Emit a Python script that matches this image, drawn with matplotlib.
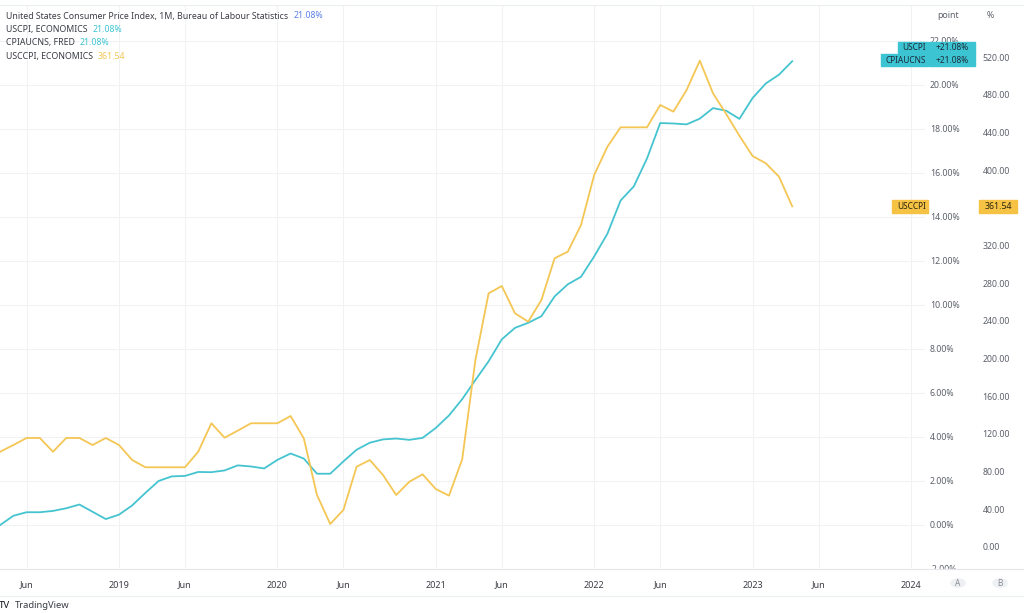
import numpy as np
import matplotlib
matplotlib.use("Agg")
import matplotlib.pyplot as plt
from matplotlib.patches import Rectangle, Circle
from matplotlib.lines import Line2D

plt.rcParams['font.family'] = ['Noto Sans', 'DejaVu Sans']

# monthly bars, Apr 2018 .. Apr 2023 (month index counted from Jan 2018)
first_month = 3
uscpi_pct = [0.00, 0.42, 0.58, 0.58, 0.64, 0.76, 0.93, 0.60, 0.27, 0.47, 0.89, 1.46,
             2.00, 2.21, 2.23, 2.41, 2.40, 2.48, 2.71, 2.66, 2.57, 2.96, 3.25, 3.02,
             2.33, 2.33, 2.89, 3.42, 3.74, 3.89, 3.93, 3.87, 3.96, 4.41, 4.98, 5.72,
             6.59, 7.44, 8.44, 8.96, 9.19, 9.49, 10.39, 10.94, 11.28, 12.21, 13.24, 14.75,
             15.39, 16.66, 18.27, 18.25, 18.21, 18.47, 18.95, 18.83, 18.46, 19.41, 20.07, 20.47,
             21.08]
usccpi = [101.1, 108.2, 115.7, 115.7, 101.1, 115.7, 115.7, 108.2, 115.7, 108.2, 92.3, 84.6,
          84.6, 84.6, 84.6, 101.1, 131.3, 116.0, 123.5, 131.3, 131.3, 131.3, 139.0, 115.3,
          55.2, 24.4, 39.3, 85.2, 92.3, 76.4, 55.2, 69.3, 77.1, 61.5, 54.5, 93.1,
          198.4, 269.2, 277.0, 248.0, 239.1, 262.1, 306.4, 313.4, 341.7, 394.8, 424.8, 445.4,
          445.4, 445.4, 469.1, 462.0, 485.0, 516.1, 481.5, 459.5, 436.5, 414.9, 407.2, 393.0,
          361.54]

tick_months = [5, 12, 17, 24, 29, 36, 41, 48, 53, 60, 65, 72]
tick_labels = ['Jun', '2019', 'Jun', '2020', 'Jun', '2021', 'Jun', '2022', 'Jun', '2023', 'Jun', '2024']
pct_ticks = list(range(0, 23, 2))
pt_ticks = list(range(0, 521, 40))

legend_rows = [
    ('United States Consumer Price Index, 1M, Bureau of Labour Statistics', '21.08%', '#5a7fe6'),
    ('USCPI, ECONOMICS', '21.08%', '#3cc4d2'),
    ('CPIAUCNS, FRED', '21.08%', '#3cc4d2'),
    ('USCCPI, ECONOMICS', '361.54', '#f3c653'),
]

CYAN = '#45c4d0'
YELLOW = '#f4c654'
TXT = '#3a3d45'
SCALE_TXT = '#5d606b'
GRID = '#f1f2f4'

W, H = 1024, 613
fig = plt.figure(figsize=(W / 100, H / 100), dpi=100)


def fx(px):
    return px / W


def fy(py):
    return 1 - py / H


months = np.arange(first_month, first_month + len(uscpi_pct))

ax = fig.add_axes([0, 45 / H, 925 / W, 563 / H])
ax.set_xlim(2.985, 73.06)
ax.set_ylim(-1.955, 23.636)
ax.plot(months, uscpi_pct, color=CYAN, lw=1.3, zorder=3)
ax.set_xticks(tick_months, tick_labels)
ax.tick_params(axis='x', length=0, pad=9, labelsize=6.5, labelcolor=TXT)
for lab in ax.get_xticklabels():
    if lab.get_text() != 'Jun':
        lab.set_fontweight('bold')
ax.grid(True, color=GRID, lw=0.8)
for s in ax.spines.values():
    s.set_visible(False)

axb = ax.twinx()
axb.set_ylim(-22.3, 575.2)
axb.plot(months, usccpi, color=YELLOW, lw=1.3)
axb.set_yticks(pt_ticks, [f'{v:.2f}' for v in pt_ticks])
axb.tick_params(axis='y', length=0, pad=41.5, labelsize=6.3, labelcolor=SCALE_TXT)
for s in axb.spines.values():
    s.set_visible(False)

# percent scale sits on the right too (twinx moved it to the left)
ax.yaxis.tick_right()
ax.set_yticks(pct_ticks, [f'{v:.2f}%' for v in pct_ticks])
ax.tick_params(axis='y', which='both', left=False, labelleft=False, right=True, labelright=True,
               length=0, pad=3.6, labelsize=6.3, labelcolor=SCALE_TXT)

# partly hidden bottom label of the percent scale
fig.text(fx(930), fy(569), '-2.00%', fontsize=6.3, color=SCALE_TXT, ha='left', va='center', zorder=0.5)
fig.add_artist(Rectangle((fx(925), fy(597)), 99 / W, 28.5 / H, transform=fig.transFigure,
                         color='white', zorder=1))
fig.add_artist(Line2D([0, 1], [fy(568.5)] * 2, color='#e3e5e8', lw=0.8, zorder=2))
fig.add_artist(Line2D([0, 1], [fy(595.5)] * 2, color='#eceef1', lw=0.8, zorder=2))
fig.add_artist(Line2D([0, 1], [fy(4.5)] * 2, color='#eceef1', lw=0.8, zorder=2))

# scale headers
fig.text(fx(937), fy(16), 'point', fontsize=6.3, color=SCALE_TXT, ha='left', va='center')
fig.text(fx(987), fy(16), '%', fontsize=6.3, color=SCALE_TXT, ha='left', va='center')

# A / B buttons
for cx, t in [(958, 'A'), (1000, 'B')]:
    fig.add_artist(Circle((fx(cx), fy(583)), 7 / W, transform=fig.transFigure,
                          color='#eef0f3', zorder=2))
    fig.text(fx(cx), fy(583), t, fontsize=6, color='#8a8d96', ha='center', va='center', zorder=3)


def box(x0, x1, y0, y1, color):
    fig.add_artist(Rectangle((fx(x0), fy(y1)), (x1 - x0) / W, (y1 - y0) / H,
                             transform=fig.transFigure, color=color, zorder=4))


TAG = '#3cc4d2'
box(897.7, 928.3, 41.7, 53.3, TAG)
box(880.7, 928.3, 54.3, 66, TAG)
box(929.3, 975, 41.7, 66, TAG)
fig.text(fx(926), fy(47.5), 'USCPI', fontsize=6, color='#1d2a3a', ha='right', va='center', zorder=5)
fig.text(fx(926), fy(60.2), 'CPIAUCNS', fontsize=6, color='#1d2a3a', ha='right', va='center', zorder=5)
fig.text(fx(952), fy(47.5), '+21.08%', fontsize=6, color='#1d2a3a', ha='center', va='center', zorder=5)
fig.text(fx(952), fy(60.2), '+21.08%', fontsize=6, color='#1d2a3a', ha='center', va='center', zorder=5)

# last-value tag of the yellow series, placed by its own scale
last_y = H - axb.transData.transform((0, usccpi[-1]))[1]
YTAG = '#f6c243'
box(891.7, 928.3, last_y - 6.3, last_y + 6.3, YTAG)
box(979, 1017, last_y - 6.3, last_y + 6.3, YTAG)
fig.text(fx(926), fy(last_y), 'USCCPI', fontsize=6, color='#2a2410', ha='right', va='center', zorder=5)
fig.text(fx(998), fy(last_y), f'{usccpi[-1]:.2f}', fontsize=6.3, color='#2a2410', ha='center',
         va='center', zorder=5)

# legend block in the top-left corner
renderer = fig.canvas.get_renderer()
for i, (name, val, col) in enumerate(legend_rows):
    y = fy(16 + i * 13.4)
    t = fig.text(fx(6), y, name, fontsize=6.3, color=TXT, ha='left', va='center')
    bb = t.get_window_extent(renderer)
    fig.text(fx(bb.x1 + 5), y, val, fontsize=6.3, color=col, ha='left', va='center')

# watermark
fig.text(fx(-1), fy(605), 'TV', fontsize=7, fontweight='heavy', color='#131722', ha='left', va='center')
fig.text(fx(15), fy(605), 'TradingView', fontsize=6.8, color='#3a3d45', ha='left', va='center')

fig.savefig('out.png', dpi=100, facecolor='white')
